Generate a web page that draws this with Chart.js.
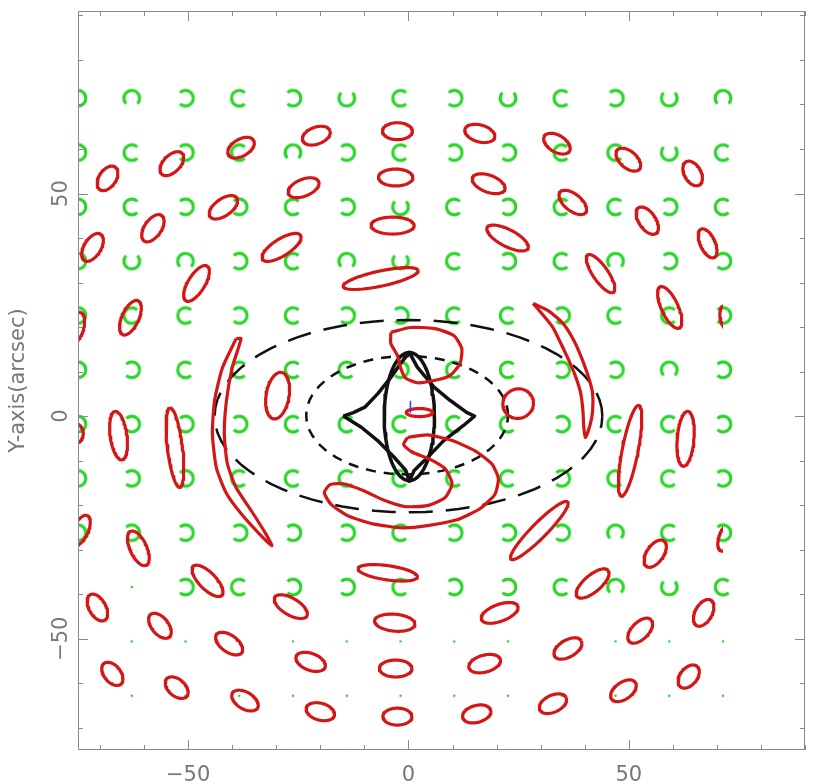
<!DOCTYPE html>
<html>
<head>
<meta charset="utf-8">
<script src="https://cdn.jsdelivr.net/npm/chart.js@4.4.1/dist/chart.umd.min.js"></script>
<style>
  html, body { margin: 0; padding: 0; background: #ffffff; }
  #wrap { width: 814px; height: 784px; }
</style>
</head>
<body>
<div id="wrap"><canvas id="lensmap" width="814" height="784"></canvas></div>
<script>
// Source grid (arcsec)
const gridX = [-75, -62.8, -50.6, -38.4, -26.2, -14, -1.8, 10.4, 22.6, 34.8, 47, 59.2, 71.4];
const gridY = [-75, -62.8, -50.6, -38.4, -26.2, -14, -1.8, 10.4, 22.6, 34.8, 47, 59.2, 71.4];

// Opening of each source ring, rows from y=71.4 down to y=-38.4 (R/L/U/D, '.' = point only)
const ringGaps = [
  'LDLRLURLURLUD',
  'LRLRDLRLLRRUR',
  'LRLLRLURLRRLR',
  'LUDLRDURLRDLL',
  'LRRLRLLRRLRRL',
  'LLRRRRLRRLLDL',
  'LLLLRRRRRLRRL',
  'LLLRRRRRRLRRL',
  'LLLLLLRLLLDRL',
  '..LRLLRLLRDUR'
];

// Lensed images: centre, semi-axes (arcsec), position angle (deg)
const ellX = [-2.5, -2.9, -3.6, -6.3, 16.2, 18.2, 22.5, 33.7, 37.3, 43.6, 49.9, 54.2, 59.3, 64.5, 67.9, 72.4,
  -20.9, -23.8, -28.8, -38.0, -42.0, -48.1, -53.7, -58.0, -63.1, -68.3, -71.7, -75.3,
  -65.8, -53.0, -29.7, -76.0, -74.4, -61.3,
  -45.6, -70.6, -56.4, -40.7, -26.7, -67.2, -52.6, -37.1, -22.2, -20.0,
  -4.7, -3.1, -2.9, -2.5,
  20.7, 17.3, 15.5, 29.7, 41.8, 36.2, 32.8, 56.0, 52.6, 48.8, 67.0, 63.6, 72.4,
  50.3, 62.9, 24.9, 2.5];
const ellY = [64.0, 53.6, 42.8, 30.9, 63.5, 52.2, 40.0, 61.2, 48.0, 32.0, 57.6, 43.9, 24.4, 54.5, 38.8, 21.9,
  63.0, 51.3, 37.9, 60.3, 46.9, 29.8, 56.7, 42.2, 22.1, 53.4, 37.9, 19.9,
  -4.4, -7.1, 4.6, -3.9, -25.7, -29.7,
  -37.0, -43.0, -47.1, -51.1, -42.8, -57.9, -61.0, -63.9, -55.2, -66.4,
  -35.2, -46.4, -56.7, -67.5,
  -44.2, -55.6, -66.9, -25.7, -37.6, -52.2, -64.6, -30.9, -48.2, -61.7, -44.2, -58.5, -26.9,
  -7.8, -5.1, 2.8, 0.8];
const ellA = [3.4, 3.9, 4.9, 8.7, 3.5, 3.9, 5.2, 3.3, 3.7, 5.1, 3.3, 3.5, 5.1, 3.0, 3.5, 3.0,
  3.3, 3.7, 5.1, 3.3, 3.7, 4.6, 3.3, 3.5, 4.2, 3.1, 3.5, 3.5,
  5.5, 9.0, 5.3, 2.4, 3.7, 4.2,
  4.6, 3.3, 3.3, 3.5, 4.2, 3.0, 3.0, 3.3, 3.5, 3.3,
  6.8, 4.6, 3.7, 3.3,
  4.4, 3.7, 3.3, 9.1, 4.6, 3.5, 3.3, 3.5, 3.5, 3.3, 3.3, 3.0, 3.7,
  10.4, 6.2, 3.5, 3.0];
const ellB = [1.9, 1.9, 1.9, 1.7, 1.9, 1.9, 1.9, 1.9, 1.9, 1.7, 1.9, 1.9, 1.9, 1.9, 1.7, 1.6,
  1.9, 1.9, 1.9, 1.9, 1.9, 1.9, 1.9, 1.9, 1.9, 1.9, 1.9, 1.6,
  1.9, 1.7, 2.6, 2.2, 1.7, 1.9,
  1.9, 1.9, 1.9, 1.9, 1.9, 1.9, 1.9, 1.9, 1.9, 1.9,
  1.6, 1.9, 1.9, 1.9,
  1.9, 1.9, 1.9, 1.7, 1.9, 1.9, 1.9, 1.9, 1.9, 1.9, 1.9, 1.9, 1.7,
  1.8, 1.9, 3.3, 0.9];
const ellAng = [0, 0, 0, 12, -15, -20, -27, -30, -38, -55, -40, -55, -65, -60, -65, -75,
  20, 22, 32, 30, 35, 58, 45, 55, 65, 55, 58, 75,
  98, 97, 80, 90, 65, -65,
  -45, -60, -50, -35, -30, -50, -40, -30, -20, -15,
  -8, -5, 0, 0,
  20, 15, 15, 45, 40, 30, 25, 55, 45, 35, 60, 50, 65,
  79, 85, 20, 0];

// Extended arcs and merged images (outline points, arcsec)
const arcWest = [[-39.1, 17.4], [-42.2, 10.9], [-44.0, 3.5], [-44.5, -3.9], [-43.6, -11.6], [-41.3, -17.4],
  [-38.0, -21.9], [-33.9, -26.4], [-31.0, -29.1], [-32.4, -26.4], [-35.7, -21.2], [-39.1, -16.1],
  [-41.1, -10.7], [-41.8, -3.9], [-41.3, 3.5], [-40.0, 10.9], [-38.0, 17.4], [-39.1, 17.4]];
const arcEast = [[28.3, 25.3], [31.7, 23.7], [35.1, 20.8], [37.8, 16.5], [39.8, 11.8], [41.1, 8.0], [41.8, 5.1],
  [41.8, 1.2], [41.3, -1.7], [40.2, -4.8], [39.8, -2.6], [39.6, 1.2], [39.1, 5.1], [38.0, 8.7],
  [36.4, 12.5], [34.6, 16.3], [32.8, 19.9], [30.3, 23.0], [28.3, 25.3]];
const blobNorth = [[-4.0, 18.8], [0.4, 19.9], [5.8, 19.7], [10.3, 18.1], [12.1, 15.2], [11.7, 11.8], [9.4, 9.1],
  [5.8, 8.0], [2.0, 7.5], [-0.7, 8.6], [-1.8, 10.9], [-2.5, 13.6], [-4.0, 16.3], [-4.0, 18.8]];
const hookSouth = [[-0.2, -4.8], [4.3, -4.2], [9.9, -5.5], [15.1, -7.8], [18.9, -10.7], [20.4, -14.0],
  [19.6, -17.6], [16.2, -20.8], [11.0, -23.3], [4.3, -24.6], [-1.3, -25.1], [-8.1, -24.2],
  [-13.7, -22.4], [-17.5, -19.9], [-19.1, -17.2], [-17.8, -15.4], [-14.8, -15.2], [-10.3, -16.7],
  [-5.8, -18.8], [-0.9, -20.3], [4.3, -20.1], [8.3, -18.3], [9.9, -15.2], [8.3, -11.8], [4.7, -9.6],
  [0.7, -8.0], [-1.1, -6.4], [-0.2, -4.8]];

// Caustic (astroid-like) and critical curve
const caustic = [[-14.8, 0], [-12.5, 0.8], [-9.9, 2.0], [-7.0, 5.0], [-4.0, 8.7], [-1.5, 12.2], [0.2, 14.3],
  [2.0, 11.0], [5.8, 6.5], [9.5, 3.5], [13.2, 0.85], [15.0, 0], [12.5, -2.1], [8.0, -5.5], [4.3, -9.3],
  [1.3, -12.2], [0.2, -14.6], [-0.6, -12.2], [-3.2, -9.3], [-7.0, -5.5], [-10.7, -2.5], [-14.8, 0]];
const criticalEll = [0.2, -0.1, 5.7, 14.4];       // cx, cy, semi-x, semi-y
const outerDashEll = [0, 0, 44.0, 21.6];
const innerDashEll = [-0.3, 0.2, 22.9, 13.3];
const lensCentre = [0.45, 2.1];

const xLabels = [-50, 0, 50];
const yLabels = [-50, 0, 50];

const RED = '#d31717', GREEN = '#2bd62b', INK = '#111111', TEXT = '#777777';

function ellipsePoints(cx, cy, a, b, angDeg) {
  const th = angDeg * Math.PI / 180, c = Math.cos(th), s = Math.sin(th);
  const pts = [];
  const n = 72;
  for (let i = 0; i <= n; i++) {
    const t = 2 * Math.PI * i / n;
    const u = a * Math.cos(t), v = b * Math.sin(t);
    pts.push({ x: cx + u * c - v * s, y: cy + u * s + v * c });
  }
  return pts;
}
const toPts = arr => arr.map(p => ({ x: p[0], y: p[1] }));

function lineSet(points, color, width, dash, clip, tension, order) {
  return {
    type: 'scatter', data: points, showLine: true, fill: false,
    borderColor: color, borderWidth: width, borderDash: dash || [],
    borderJoinStyle: 'round', borderCapStyle: 'butt',
    pointRadius: 0, pointHoverRadius: 0, tension: tension, clip: clip, order: order
  };
}

// ring marker with an opening on the right, rotated per source
function ringIcon() {
  const cv = document.createElement('canvas');
  cv.width = 24; cv.height = 24;
  const g = cv.getContext('2d');
  g.strokeStyle = GREEN; g.lineWidth = 3.2;
  g.beginPath();
  g.arc(12, 12, 7.8, Math.PI / 4, 2 * Math.PI - Math.PI / 4);
  g.stroke();
  return cv;
}

const rotFor = { R: 0, U: -90, L: 180, D: 90 };
const ringData = [], ringRot = [], dotData = [];
ringGaps.forEach((row, r) => {
  const yv = gridY[gridY.length - 1 - r];
  for (let c = 0; c < gridX.length; c++) {
    const ch = row[c];
    if (ch === '.') dotData.push({ x: gridX[c], y: yv });
    else { ringData.push({ x: gridX[c], y: yv }); ringRot.push(rotFor[ch]); }
  }
});
for (let r = 0; r < 3; r++) for (let c = 0; c < gridX.length; c++) dotData.push({ x: gridX[c], y: gridY[r] });

const redClip = { left: 0, top: 0, right: -82, bottom: 0 };
const datasets = [];

datasets.push({ type: 'scatter', data: ringData, pointStyle: ringIcon(), pointRotation: ringRot,
  pointRadius: 8, pointHoverRadius: 8, showLine: false, clip: 0, order: 10 });
datasets.push({ type: 'scatter', data: dotData, pointStyle: 'circle', pointRadius: 1.2,
  backgroundColor: GREEN, borderColor: GREEN, borderWidth: 0, showLine: false, clip: 0, order: 10 });

datasets.push(lineSet(ellipsePoints(outerDashEll[0], outerDashEll[1], outerDashEll[2], outerDashEll[3], 0), INK, 2.5, [24, 13], 0, 0, 5));
datasets.push(lineSet(ellipsePoints(innerDashEll[0], innerDashEll[1], innerDashEll[2], innerDashEll[3], 0), INK, 2.5, [10, 8], 0, 0, 5));
datasets.push(lineSet(ellipsePoints(criticalEll[0], criticalEll[1], criticalEll[2], criticalEll[3], 0), INK, 3.5, null, 0, 0, 4));
datasets.push(lineSet(toPts(caustic), INK, 3.5, null, 0, 0, 4));

for (let i = 0; i < ellX.length; i++) {
  datasets.push(lineSet(ellipsePoints(ellX[i], ellY[i], ellA[i], ellB[i], ellAng[i]), RED, 3.2, null, redClip, 0, 1));
}
[arcWest, arcEast, blobNorth, hookSouth].forEach(poly => {
  datasets.push(lineSet(toPts(poly), RED, 3.2, null, redClip, 0.2, 1));
});

datasets.push({ type: 'scatter', data: [{ x: lensCentre[0], y: lensCentre[1] }], pointStyle: 'line',
  pointRotation: 90, pointRadius: 6, borderColor: '#3a3aff', borderWidth: 1.5, showLine: false, order: 0 });

const fmt = v => (v < 0 ? '\u2212' + Math.abs(v) : String(v));

const framePlugin = {
  id: 'frame',
  afterDatasetsDraw(chart) {
    const { ctx, chartArea: a, scales } = chart;
    const xs = scales.x, ys = scales.y;
    ctx.save();
    ctx.strokeStyle = '#8a8a8a';
    ctx.lineWidth = 1;
    ctx.strokeRect(a.left + 0.5, a.top + 0.5, a.right - a.left - 1, a.bottom - a.top - 1);
    ctx.beginPath();
    for (let v = -70; v <= 90; v += 10) {
      const len = v % 50 === 0 ? 10 : 5;
      const px = Math.round(xs.getPixelForValue(v)) + 0.5;
      ctx.moveTo(px, a.bottom); ctx.lineTo(px, a.bottom - len);
      ctx.moveTo(px, a.top); ctx.lineTo(px, a.top + len);
      const py = Math.round(ys.getPixelForValue(v)) + 0.5;
      ctx.moveTo(a.left, py); ctx.lineTo(a.left + len, py);
      ctx.moveTo(a.right, py); ctx.lineTo(a.right - len, py);
    }
    ctx.stroke();
    ctx.fillStyle = TEXT;
    ctx.font = '21px "DejaVu Sans"';
    ctx.textAlign = 'center';
    ctx.textBaseline = 'middle';
    yLabels.forEach(v => {
      ctx.save();
      ctx.translate(62, ys.getPixelForValue(v));
      ctx.rotate(-Math.PI / 2);
      ctx.fillText(fmt(v), 0, 0);
      ctx.restore();
    });
    ctx.restore();
  }
};

new Chart(document.getElementById('lensmap'), {
  type: 'scatter',
  data: { datasets: datasets },
  options: {
    responsive: false, animation: false, events: [],
    layout: { padding: { top: 11, right: 3, left: 0, bottom: 0 } },
    plugins: { legend: { display: false }, tooltip: { enabled: false } },
    scales: {
      x: {
        type: 'linear', min: -75, max: 90,
        grid: { display: false }, border: { display: false },
        afterBuildTicks: s => { s.ticks = xLabels.map(v => ({ value: v })); },
        ticks: { callback: v => fmt(v), font: { family: 'DejaVu Sans', size: 21 }, color: TEXT,
          padding: 5, maxRotation: 0, autoSkip: false },
        afterFit: s => { s.height = 34; }
      },
      y: {
        type: 'linear', min: -75, max: 91,
        grid: { display: false }, border: { display: false },
        afterBuildTicks: s => { s.ticks = yLabels.map(v => ({ value: v })); },
        ticks: { display: false },
        title: { display: true, text: 'Y-axis(arcsec)', font: { family: 'DejaVu Sans', size: 21 },
          color: TEXT, padding: { top: 6, bottom: 0 } },
        afterFit: s => { s.width = 78; }
      }
    }
  },
  plugins: [framePlugin]
});
</script>
</body>
</html>
